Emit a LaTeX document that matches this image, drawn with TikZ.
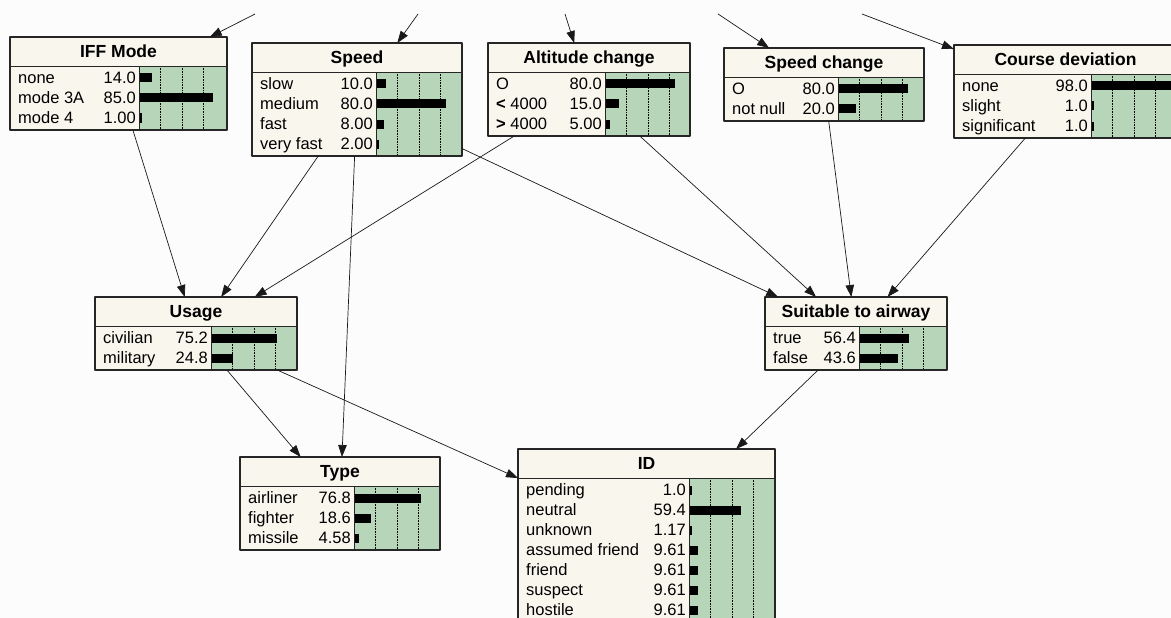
\documentclass[tikz,border=0pt]{standalone}
\usepackage{fontspec}
\setmainfont{Liberation Sans}
\usetikzlibrary{arrows.meta}
\definecolor{bngreen}{RGB}{183,214,185}
\definecolor{bncream}{RGB}{249,246,237}
\definecolor{bnback}{RGB}{252,252,252}
\tikzset{
  bnbox/.style={draw=black!85,line width=1.1pt,inner sep=0pt,outer sep=0pt,anchor=north west},
  bntitle/.style={anchor=base,inner sep=0pt,font=\fontsize{17.5}{20}\selectfont\bfseries},
  bnlabel/.style={anchor=base west,inner sep=0pt,font=\fontsize{16.5}{18}\selectfont},
  bnvalue/.style={anchor=base east,inner sep=0pt,font=\fontsize{16.5}{18}\selectfont},
  bngrid/.style={densely dotted,line width=0.6pt},
  bnsplit/.style={line width=0.8pt,black!85},
  bnlink/.style={-{Triangle[length=12pt,width=8.5pt]},line width=0.7pt,black!90},
}
\begin{document}
\begin{tikzpicture}[x=1pt,y=-1pt,line join=round]
	\useasboundingbox (0,0) rectangle (1171,618);
	\clip (0,0) rectangle (1171,618);
	\fill[bnback] (0,0) rectangle (1171,618);
	% IFF Mode
	\begin{scope}[shift={(10,37)}]
		\def\w{217} % chieu rong hop
		\def\s{129} % vach chia chu / thanh
		\def\n{3} % so dong
		\fill[bncream] (0,0) rectangle (\w,29+20*\n+4);
		\fill[bngreen] (\s,29) rectangle (\w,29+20*\n+4);
		\foreach \k in {0.25,0.5,0.75} \draw[bngrid] (\s+86*\k,29) -- ++(0,20*\n+4);
		\foreach \lab/\val/\p [count=\i] in {none/14.0/14.0,mode 3A/85.0/85.0,mode 4/1.00/1.00}{
			\node[bnlabel] at (8,21+20*\i+5.5) {\lab};
			\node[bnvalue] at (\s-3,21+20*\i+5.5) {\val};
			\fill (\s+1,21+20*\i-4.5) rectangle ++({max(0.86*\p,2)},9);
		}
		\draw[bnsplit] (0,29) -- (\w,29) (\s,29) -- (\s,29+20*\n+4);
		\node[bntitle] at (\w/2,20.5) {IFF Mode};
		\node[bnbox,minimum width=\w,minimum height=29+20*\n+4] (iff) at (0,0) {};
	\end{scope}
	% Speed
	\begin{scope}[shift={(252,43)}]
		\def\w{210} % chieu rong hop
		\def\s{124} % vach chia chu / thanh
		\def\n{4} % so dong
		\fill[bncream] (0,0) rectangle (\w,29+20*\n+4);
		\fill[bngreen] (\s,29) rectangle (\w,29+20*\n+4);
		\foreach \k in {0.25,0.5,0.75} \draw[bngrid] (\s+86*\k,29) -- ++(0,20*\n+4);
		\foreach \lab/\val/\p [count=\i] in {slow/10.0/10.0,medium/80.0/80.0,fast/8.00/8.00,very fast/2.00/2.00}{
			\node[bnlabel] at (8,21+20*\i+5.5) {\lab};
			\node[bnvalue] at (\s-3,21+20*\i+5.5) {\val};
			\fill (\s+1,21+20*\i-4.5) rectangle ++({max(0.86*\p,2)},9);
		}
		\draw[bnsplit] (0,29) -- (\w,29) (\s,29) -- (\s,29+20*\n+4);
		\node[bntitle] at (\w/2,20.5) {Speed};
		\node[bnbox,minimum width=\w,minimum height=29+20*\n+4] (speed) at (0,0) {};
	\end{scope}
	% Altitude change
	\begin{scope}[shift={(488,43)}]
		\def\w{202} % chieu rong hop
		\def\s{117} % vach chia chu / thanh
		\def\n{3} % so dong
		\fill[bncream] (0,0) rectangle (\w,29+20*\n+4);
		\fill[bngreen] (\s,29) rectangle (\w,29+20*\n+4);
		\foreach \k in {0.25,0.5,0.75} \draw[bngrid] (\s+86*\k,29) -- ++(0,20*\n+4);
		\foreach \lab/\val/\p [count=\i] in {O/80.0/80.0,\textbf{<} 4000/15.0/15.0,\textbf{>} 4000/5.00/5.00}{
			\node[bnlabel] at (8,21+20*\i+5.5) {\lab};
			\node[bnvalue] at (\s-3,21+20*\i+5.5) {\val};
			\fill (\s+1,21+20*\i-4.5) rectangle ++({max(0.86*\p,2)},9);
		}
		\draw[bnsplit] (0,29) -- (\w,29) (\s,29) -- (\s,29+20*\n+4);
		\node[bntitle] at (\w/2,20.5) {Altitude change};
		\node[bnbox,minimum width=\w,minimum height=29+20*\n+4] (altchange) at (0,0) {};
	\end{scope}
	% Speed change
	\begin{scope}[shift={(724,48)}]
		\def\w{200} % chieu rong hop
		\def\s{114} % vach chia chu / thanh
		\def\n{2} % so dong
		\fill[bncream] (0,0) rectangle (\w,29+20*\n+4);
		\fill[bngreen] (\s,29) rectangle (\w,29+20*\n+4);
		\foreach \k in {0.25,0.5,0.75} \draw[bngrid] (\s+86*\k,29) -- ++(0,20*\n+4);
		\foreach \lab/\val/\p [count=\i] in {O/80.0/80.0,not null/20.0/20.0}{
			\node[bnlabel] at (8,21+20*\i+5.5) {\lab};
			\node[bnvalue] at (\s-3,21+20*\i+5.5) {\val};
			\fill (\s+1,21+20*\i-4.5) rectangle ++({max(0.86*\p,2)},9);
		}
		\draw[bnsplit] (0,29) -- (\w,29) (\s,29) -- (\s,29+20*\n+4);
		\node[bntitle] at (\w/2,20.5) {Speed change};
		\node[bnbox,minimum width=\w,minimum height=29+20*\n+4] (spdchange) at (0,0) {};
	\end{scope}
	% Course deviation
	\begin{scope}[shift={(954,45)}]
		\def\w{223} % chieu rong hop
		\def\s{137} % vach chia chu / thanh
		\def\n{3} % so dong
		\fill[bncream] (0,0) rectangle (\w,29+20*\n+4);
		\fill[bngreen] (\s,29) rectangle (\w,29+20*\n+4);
		\foreach \k in {0.25,0.5,0.75} \draw[bngrid] (\s+86*\k,29) -- ++(0,20*\n+4);
		\foreach \lab/\val/\p [count=\i] in {none/98.0/98.0,slight/1.0/1.0,significant/1.0/1.0}{
			\node[bnlabel] at (8,21+20*\i+5.5) {\lab};
			\node[bnvalue] at (\s-3,21+20*\i+5.5) {\val};
			\fill (\s+1,21+20*\i-4.5) rectangle ++({max(0.86*\p,2)},9);
		}
		\draw[bnsplit] (0,29) -- (\w,29) (\s,29) -- (\s,29+20*\n+4);
		\node[bntitle] at (\w/2,20.5) {Course deviation};
		\node[bnbox,minimum width=\w,minimum height=29+20*\n+4] (coursedev) at (0,0) {};
	\end{scope}
	% Usage
	\begin{scope}[shift={(95,297)}]
		\def\w{202} % chieu rong hop
		\def\s{116} % vach chia chu / thanh
		\def\n{2} % so dong
		\fill[bncream] (0,0) rectangle (\w,29+20*\n+4);
		\fill[bngreen] (\s,29) rectangle (\w,29+20*\n+4);
		\foreach \k in {0.25,0.5,0.75} \draw[bngrid] (\s+86*\k,29) -- ++(0,20*\n+4);
		\foreach \lab/\val/\p [count=\i] in {civilian/75.2/75.2,military/24.8/24.8}{
			\node[bnlabel] at (8,21+20*\i+5.5) {\lab};
			\node[bnvalue] at (\s-3,21+20*\i+5.5) {\val};
			\fill (\s+1,21+20*\i-4.5) rectangle ++({max(0.86*\p,2)},9);
		}
		\draw[bnsplit] (0,29) -- (\w,29) (\s,29) -- (\s,29+20*\n+4);
		\node[bntitle] at (\w/2,20.5) {Usage};
		\node[bnbox,minimum width=\w,minimum height=29+20*\n+4] (usage) at (0,0) {};
	\end{scope}
	% Suitable to airway
	\begin{scope}[shift={(765,297)}]
		\def\w{182} % chieu rong hop
		\def\s{94} % vach chia chu / thanh
		\def\n{2} % so dong
		\fill[bncream] (0,0) rectangle (\w,29+20*\n+4);
		\fill[bngreen] (\s,29) rectangle (\w,29+20*\n+4);
		\foreach \k in {0.25,0.5,0.75} \draw[bngrid] (\s+86*\k,29) -- ++(0,20*\n+4);
		\foreach \lab/\val/\p [count=\i] in {true/56.4/56.4,false/43.6/43.6}{
			\node[bnlabel] at (8,21+20*\i+5.5) {\lab};
			\node[bnvalue] at (\s-3,21+20*\i+5.5) {\val};
			\fill (\s+1,21+20*\i-4.5) rectangle ++({max(0.86*\p,2)},9);
		}
		\draw[bnsplit] (0,29) -- (\w,29) (\s,29) -- (\s,29+20*\n+4);
		\node[bntitle] at (\w/2,20.5) {Suitable to airway};
		\node[bnbox,minimum width=\w,minimum height=29+20*\n+4] (suitable) at (0,0) {};
	\end{scope}
	% Type
	\begin{scope}[shift={(240,457)}]
		\def\w{200} % chieu rong hop
		\def\s{114} % vach chia chu / thanh
		\def\n{3} % so dong
		\fill[bncream] (0,0) rectangle (\w,29+20*\n+4);
		\fill[bngreen] (\s,29) rectangle (\w,29+20*\n+4);
		\foreach \k in {0.25,0.5,0.75} \draw[bngrid] (\s+86*\k,29) -- ++(0,20*\n+4);
		\foreach \lab/\val/\p [count=\i] in {airliner/76.8/76.8,fighter/18.6/18.6,missile/4.58/4.58}{
			\node[bnlabel] at (8,21+20*\i+5.5) {\lab};
			\node[bnvalue] at (\s-3,21+20*\i+5.5) {\val};
			\fill (\s+1,21+20*\i-4.5) rectangle ++({max(0.86*\p,2)},9);
		}
		\draw[bnsplit] (0,29) -- (\w,29) (\s,29) -- (\s,29+20*\n+4);
		\node[bntitle] at (\w/2,20.5) {Type};
		\node[bnbox,minimum width=\w,minimum height=29+20*\n+4] (type) at (0,0) {};
	\end{scope}
	% ID
	\begin{scope}[shift={(518,449)}]
		\def\w{257} % chieu rong hop
		\def\s{171} % vach chia chu / thanh
		\def\n{7} % so dong
		\fill[bncream] (0,0) rectangle (\w,29+20*\n+4);
		\fill[bngreen] (\s,29) rectangle (\w,29+20*\n+4);
		\foreach \k in {0.25,0.5,0.75} \draw[bngrid] (\s+86*\k,29) -- ++(0,20*\n+4);
		\foreach \lab/\val/\p [count=\i] in {pending/1.0/1.0,neutral/59.4/59.4,unknown/1.17/1.17,assumed friend/9.61/9.61,friend/9.61/9.61,suspect/9.61/9.61,hostile/9.61/9.61}{
			\node[bnlabel] at (8,21+20*\i+5.5) {\lab};
			\node[bnvalue] at (\s-3,21+20*\i+5.5) {\val};
			\fill (\s+1,21+20*\i-4.5) rectangle ++({max(0.86*\p,2)},9);
		}
		\draw[bnsplit] (0,29) -- (\w,29) (\s,29) -- (\s,29+20*\n+4);
		\node[bntitle] at (\w/2,20.5) {ID};
		\node[bnbox,minimum width=\w,minimum height=29+20*\n+4] (id) at (0,0) {};
	\end{scope}
	% mui ten tu ngoai vao
	\coordinate (iffin) at (255,14);
	\coordinate (speedin) at (418,14);
	\coordinate (altin) at (565,14);
	\coordinate (spdin) at (718,14);
	\coordinate (coursein) at (862,14);
	\draw[bnlink] (iffin) -- (iff);
	\draw[bnlink] (speedin) -- (speed);
	\draw[bnlink] (altin) -- (altchange);
	\draw[bnlink] (spdin) -- (spdchange);
	\draw[bnlink] (coursein) -- (coursedev);
	% cac cung
	\draw[bnlink] (iff) -- (usage);
	\draw[bnlink] (speed) -- (usage);
	\draw[bnlink] (altchange) -- (usage);
	\draw[bnlink] (speed) -- (type);
	\draw[bnlink] (speed) -- (suitable);
	\draw[bnlink] (altchange) -- (suitable);
	\draw[bnlink] (spdchange) -- (suitable);
	\draw[bnlink] (coursedev) -- (suitable);
	\draw[bnlink] (usage) -- (type);
	\draw[bnlink] (usage) -- (id);
	\draw[bnlink] (suitable) -- (id);
\end{tikzpicture}
\end{document}
